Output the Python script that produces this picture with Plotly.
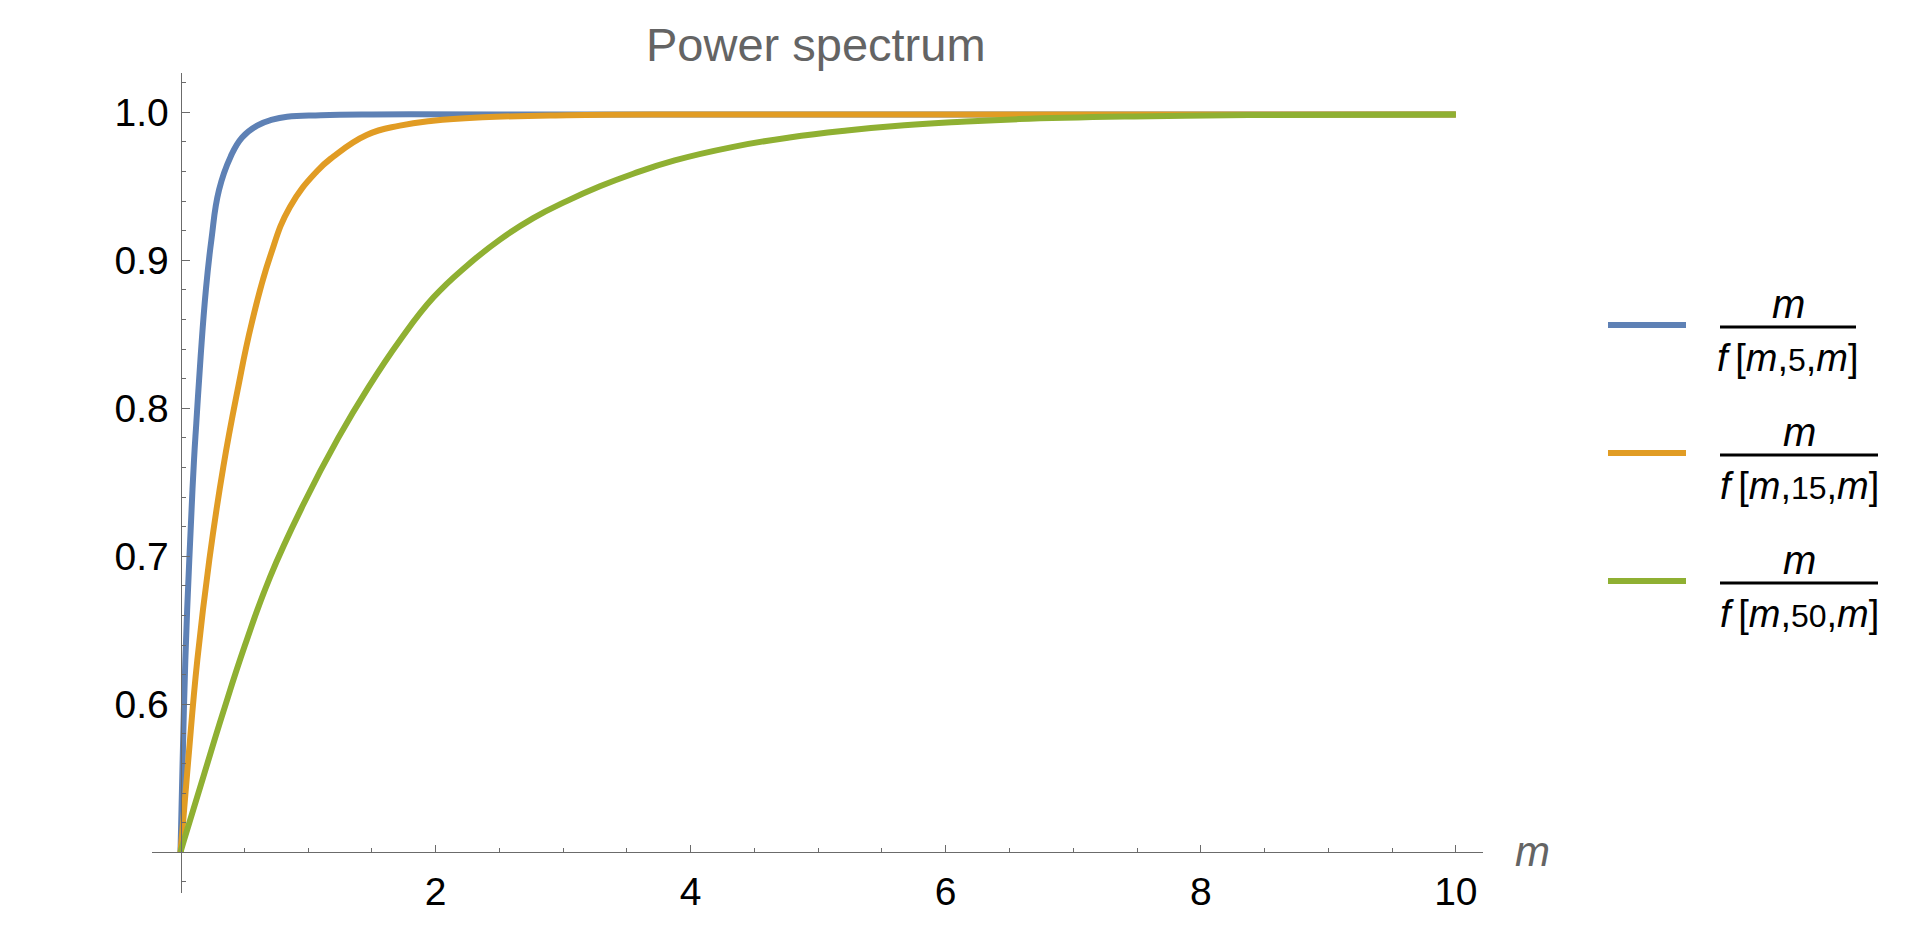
import plotly.graph_objects as go

# ---------------- data ----------------
m_blue = [0, 0.017, 0.038, 0.069, 0.106, 0.124, 0.158, 0.199, 0.242, 0.302, 0.393,
          0.483, 0.601, 0.720, 0.836, 1.10, 1.5, 2.5, 4.0, 6.0, 8.0, 10.0]
v_blue = [0.500, 0.5624, 0.630, 0.6976, 0.765, 0.790, 0.835, 0.880, 0.9137, 0.9475, 0.970,
          0.983, 0.991, 0.995, 0.997, 0.998, 0.9985, 0.9985, 0.9985, 0.9985, 0.9985, 0.9985]

m_orange = [0, 0.017, 0.061, 0.132, 0.226, 0.336, 0.448, 0.558, 0.702, 0.858, 1.068,
            1.198, 1.46, 1.72, 1.98, 2.37, 3.03, 4.0, 6.0, 8.0, 10.0]
v_orange = [0.500, 0.517, 0.5624, 0.630, 0.6976, 0.7605, 0.8124, 0.8574, 0.9024, 0.936, 0.960,
            0.970, 0.9847, 0.9910, 0.9943, 0.9966, 0.998, 0.9985, 0.9985, 0.9985, 0.9985]

m_green = [0, 0.027, 0.179, 0.336, 0.506, 0.702, 0.963, 1.237, 1.472, 1.721, 1.982,
           2.244, 2.505, 2.766, 3.028, 3.289, 3.55, 3.875, 4.325, 4.775, 5.225, 5.675,
           6.125, 6.575, 7.475, 8.375, 10.0]
v_green = [0.500, 0.508, 0.551, 0.595, 0.640, 0.686, 0.735, 0.780, 0.814, 0.846, 0.8748,
           0.8962, 0.914, 0.9285, 0.940, 0.950, 0.9585, 0.9675, 0.9765, 0.9830, 0.9877, 0.9912,
           0.9936, 0.9954, 0.9972, 0.9981, 0.9985]

series_names = ["m/f[m,5,m]", "m/f[m,15,m]", "m/f[m,50,m]"]
series_params = ["5", "15", "50"]
colors = ["#5E81B5", "#E19C24", "#8FB032"]

x_major = [2, 4, 6, 8, 10]
x_major_text = ["2", "4", "6", "8", "10"]
x_minor = [0.5, 1, 1.5, 2.5, 3, 3.5, 4.5, 5, 5.5, 6.5, 7, 7.5, 8.5, 9, 9.5]
y_major = [0.6, 0.7, 0.8, 0.9, 1.0]
y_major_text = ["0.6", "0.7", "0.8", "0.9", "1.0"]
y_minor = [0.48, 0.52, 0.54, 0.56, 0.58, 0.62, 0.64, 0.66, 0.68, 0.72, 0.74, 0.76, 0.78,
           0.82, 0.84, 0.86, 0.88, 0.92, 0.94, 0.96, 0.98, 1.02]

# ---------------- page geometry ----------------
W, H = 1903, 911   # body margin of 8px around the figure
OFF = 8


def fx(p):
    return (p - OFF) / W


def fy(p):
    return 1 - (p - OFF) / H


AX = "#6b6b6b"
FONT = "Liberation Sans, Arial, Helvetica, sans-serif"

fig = go.Figure()
for mm, vv, c, n in zip([m_blue, m_orange, m_green], [v_blue, v_orange, v_green], colors, series_names):
    fig.add_trace(go.Scatter(x=mm, y=vv, mode="lines", name=n,
                             line=dict(color=c, width=6, shape="spline", smoothing=1.3),
                             hoverinfo="x+y"))

fig.update_layout(
    width=W, height=H, margin=dict(l=0, r=0, t=0, b=0),
    paper_bgcolor="white", plot_bgcolor="white", showlegend=False,
    xaxis=dict(domain=[fx(152), fx(1483)], range=[-0.2234, 10.213],
               anchor="free", position=fy(852.3),
               showline=True, linecolor=AX, linewidth=1, zeroline=False, showgrid=False,
               ticks="inside", tickvals=x_major, ticktext=x_major_text, ticklen=7,
               tickwidth=1, tickcolor=AX, ticklabelstandoff=5,
               tickfont=dict(family=FONT, size=39, color="black"),
               minor=dict(tickmode="array", tickvals=x_minor, ticks="inside", ticklen=4,
                          tickcolor=AX, tickwidth=1, showgrid=False)),
    yaxis=dict(domain=[fy(893), fy(73)], range=[0.4725, 1.02655],
               anchor="free", position=fx(180.5),
               showline=True, linecolor=AX, linewidth=1, zeroline=False, showgrid=False,
               ticks="inside", tickvals=y_major, ticktext=y_major_text, ticklen=8,
               tickwidth=1, tickcolor=AX, ticklabelstandoff=4,
               tickfont=dict(family=FONT, size=39, color="black"),
               minor=dict(tickmode="array", tickvals=y_minor, ticks="inside", ticklen=4,
                          tickcolor=AX, tickwidth=1, showgrid=False)),
)

annotations = [
    dict(text="Power spectrum", x=fx(816), y=fy(44), xref="paper", yref="paper",
         xanchor="center", yanchor="middle", showarrow=False,
         font=dict(family=FONT, size=47, color="#646464")),
    dict(text="<i>m</i>", x=fx(1532), y=fy(851), xref="paper", yref="paper",
         xanchor="center", yanchor="middle", showarrow=False,
         font=dict(family=FONT, size=42, color="#646464")),
]
shapes = []

# legend: swatch + stacked fraction
leg_rows = [(325, 1856), (453, 1878), (581, 1878)]
for (yc, bar_r), c, p in zip(leg_rows, colors, series_params):
    shapes.append(dict(type="line", xref="paper", yref="paper",
                       x0=fx(1608), x1=fx(1686), y0=fy(yc), y1=fy(yc),
                       line=dict(color=c, width=6)))
    shapes.append(dict(type="line", xref="paper", yref="paper",
                       x0=fx(1720), x1=fx(bar_r), y0=fy(yc + 2), y1=fy(yc + 2),
                       line=dict(color="black", width=3)))
    xc = (1720 + bar_r) / 2
    annotations.append(dict(text="<i>m</i>", x=fx(xc), y=fy(yc - 21), xref="paper", yref="paper",
                            xanchor="center", yanchor="middle", showarrow=False,
                            font=dict(family=FONT, size=40, color="black")))
    den = ("<i>f</i>\u2009[<i>m</i>,<span style='font-size:32px'>" + p +
           "</span>,<i>m</i>]")
    annotations.append(dict(text=den, x=fx(xc), y=fy(yc + 33), xref="paper", yref="paper",
                            xanchor="center", yanchor="middle", showarrow=False,
                            font=dict(family=FONT, size=38, color="black")))

fig.update_layout(annotations=annotations, shapes=shapes)
fig.write_html("out.html")
